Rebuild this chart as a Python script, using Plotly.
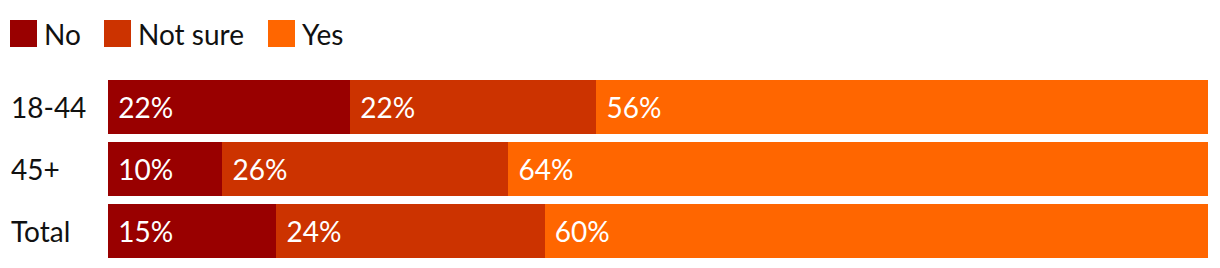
import plotly.graph_objects as go

categories = ["18-44", "45+", "Total"]
series_names = ["No", "Not sure", "Yes"]
no_vals = [22.0, 10.4, 15.3]
notsure_vals = [22.4, 26.0, 24.4]
yes_vals = [55.6, 63.6, 60.3]
colors = ["#990000", "#cc3300", "#ff6600"]

W, H = 1220, 268
ML, MR, MT, MB = 108, 12, 76, 6
PW, PH = W - ML - MR, H - MT - MB
FONT = "Lato"
FS = 28

def px_x(px):
    return (px - ML) / PW

def px_y(py):
    return (H - MB - py) / PH

fig = go.Figure()
for name, vals, col in zip(series_names, [no_vals, notsure_vals, yes_vals], colors):
    fig.add_trace(go.Bar(
        y=categories, x=vals, name=name, orientation="h",
        marker=dict(color=col, line=dict(width=0)),
        texttemplate="\u00a0%{x:.0f}%", textposition="inside",
        insidetextanchor="start", constraintext="none",
        textfont=dict(family=FONT, size=FS, color="white"),
        showlegend=False, hoverinfo="skip",
    ))

shapes = []
annotations = []
# manual legend
legend_sq = [10, 104, 268]
for name, col, sx in zip(series_names, colors, legend_sq):
    shapes.append(dict(type="rect", xref="paper", yref="paper",
                       x0=px_x(sx), x1=px_x(sx + 27), y0=px_y(47), y1=px_y(20),
                       fillcolor=col, line=dict(width=0)))
    annotations.append(dict(xref="paper", yref="paper", x=px_x(sx + 32), y=px_y(33.5),
                            text=name, showarrow=False, xanchor="left", yanchor="middle",
                            font=dict(family=FONT, size=FS, color="#111111")))
# category labels, left aligned
for c in categories:
    annotations.append(dict(xref="paper", yref="y", x=px_x(9), y=c, text=c,
                            showarrow=False, xanchor="left", yanchor="middle",
                            font=dict(family=FONT, size=FS, color="#111111")))

fig.update_layout(
    width=W, height=H, barmode="stack", bargap=8 / 62,
    margin=dict(l=ML, r=MR, t=MT, b=MB, pad=0),
    paper_bgcolor="white", plot_bgcolor="white",
    xaxis=dict(range=[0, 100], visible=False, fixedrange=True),
    yaxis=dict(categoryorder="array", categoryarray=categories, autorange="reversed",
               showticklabels=False, showgrid=False, zeroline=False, showline=False),
    shapes=shapes, annotations=annotations,
    font=dict(family=FONT),
)

fig.write_html("out.html", config={"displayModeBar": False})
